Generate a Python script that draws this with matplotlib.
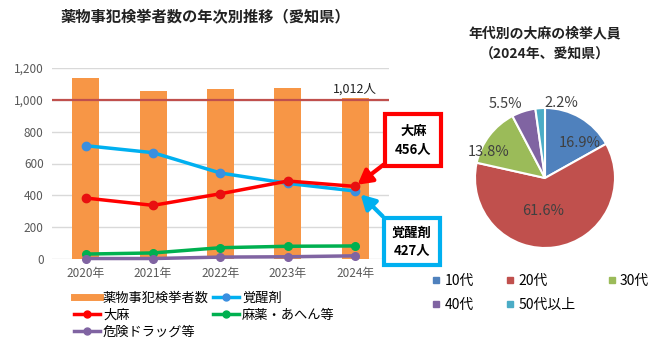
import numpy as np
import matplotlib
matplotlib.use("Agg")
import matplotlib.pyplot as plt
from matplotlib.lines import Line2D

plt.rcParams['font.family'] = ['Noto Sans CJK JP', 'DejaVu Sans']

# data
years = ['2020年', '2021年', '2022年', '2023年', '2024年']
total = [1137, 1055, 1068, 1074, 1012]
kakuseizai = [712, 668, 540, 475, 427]
taima = [383, 337, 410, 490, 456]
mayaku = [31, 38, 71, 80, 82]
kiken = [3, 3, 12, 14, 20]

age_labels = ['10代', '20代', '30代', '40代', '50代以上']
age_share = [16.9, 61.6, 13.8, 5.5, 2.2]

fig = plt.figure(figsize=(6.5, 3.52), dpi=100)

# ---- left chart ----
ax = fig.add_axes([52/650, 1-259/352, 337/650, 191/352])
x = np.arange(len(years))
ax.bar(x, total, width=0.4, color='#F79646', zorder=2)
ax.axhline(1000, color='#C0504D', lw=1.6, zorder=3)
ax.text(4.0, 1025, '1,012人', ha='center', va='bottom', fontsize=9, color='#222222')

ax.plot(x, kakuseizai, color='#00B0F0', lw=2.5, marker='o', ms=6,
        mfc='#3A8FE0', mec='#3A8FE0', zorder=4, clip_on=False)
ax.plot(x, taima, color='#FF0000', lw=2.5, marker='o', ms=6,
        mfc='#E81010', mec='#E81010', zorder=5, clip_on=False)
ax.plot(x, mayaku, color='#00B050', lw=2.5, marker='o', ms=5.5,
        zorder=4, clip_on=False)
ax.plot(x, kiken, color='#8064A2', lw=2.5, marker='o', ms=5.5,
        zorder=4, clip_on=False)

ax.set_xlim(-0.5, 4.5)
ax.set_ylim(0, 1200)
ax.set_yticks(range(0, 1201, 200))
ax.set_yticklabels([f'{v:,}' for v in range(0, 1201, 200)])
ax.set_xticks(x)
ax.set_xticklabels(years)
ax.tick_params(length=0, labelsize=8.5, colors='#595959', pad=6)
ax.grid(axis='y', color='#D9D9D9', lw=1, zorder=0)
for s in ax.spines.values():
    s.set_visible(False)

fig.text(205/650, 1-17/352, '薬物事犯検挙者数の年次別推移（愛知県）',
         ha='center', va='center', fontsize=11, fontweight='bold', color='#222222')

# callout boxes
ax.annotate('大麻\n456人', xy=(4.0, 456), xytext=(4.86, 748),
            ha='center', va='center', fontsize=9.5, fontweight='bold',
            annotation_clip=False, linespacing=1.35,
            bbox=dict(boxstyle='square,pad=0.75', fc='white', ec='#FF0000', lw=3),
            arrowprops=dict(arrowstyle='-|>,head_length=0.9,head_width=0.5',
                            color='#FF0000', lw=3,
                            relpos=(0.0, 0.0), shrinkA=0, shrinkB=2))
ax.annotate('覚醒剤\n427人', xy=(4.05, 418), xytext=(4.84, 110),
            ha='center', va='center', fontsize=9.5, fontweight='bold',
            annotation_clip=False, linespacing=1.35,
            bbox=dict(boxstyle='square,pad=0.6', fc='white', ec='#00B0F0', lw=3),
            arrowprops=dict(arrowstyle='-|>,head_length=0.9,head_width=0.5',
                            color='#00B0F0', lw=3,
                            relpos=(0.0, 1.0), shrinkA=0, shrinkB=2))

h_bar = Line2D([], [], color='#F79646', lw=5)
h_kak = Line2D([], [], color='#00B0F0', lw=2.5, marker='o', ms=5, mfc='#3A8FE0', mec='#3A8FE0')
h_tai = Line2D([], [], color='#FF0000', lw=2.5, marker='o', ms=5)
h_may = Line2D([], [], color='#00B050', lw=2.5, marker='o', ms=5)
h_kik = Line2D([], [], color='#8064A2', lw=2.5, marker='o', ms=5)
fig.legend([h_bar, h_tai, h_kik, h_kak, h_may],
           ['薬物事犯検挙者数', '大麻', '危険ドラッグ等', '覚醒剤', '麻薬・あへん等'],
           ncol=2, loc='upper left', bbox_to_anchor=(74/650, 1-292/352),
           frameon=False, fontsize=9.5, handlelength=2.0, handletextpad=0.2,
           columnspacing=0.3, labelspacing=0.3, borderaxespad=0, borderpad=0)

# ---- pie ----
pcolors = ['#4F81BD', '#C0504D', '#9BBB59', '#8064A2', '#4BACC6']
pax = fig.add_axes([(545-70)/650, (352-178-70)/352, 140/650, 140/352])
wedges, _ = pax.pie(age_share, colors=pcolors, startangle=90, counterclock=False,
                    wedgeprops=dict(edgecolor='white', linewidth=1.5))
pax.set_xlim(-1, 1)
pax.set_ylim(-1, 1)
pax.set_aspect('equal')
# label placement (fraction of radius from centre)
label_xy = [(0.49, 0.50), (-0.03, -0.47), (-0.81, 0.37), (-0.56, 1.06), (0.24, 1.07)]
for v, (lx, ly) in zip(age_share, label_xy):
    pax.text(lx, ly, f'{v}%', ha='center', va='center', fontsize=10.5, color='#404040')

fig.text(545/650, 1-33/352, '年代別の大麻の検挙人員', ha='center', va='center',
         fontsize=10, fontweight='bold', color='#222222')
fig.text(545/650, 1-55/352, '（2024年、愛知県）', ha='center', va='center',
         fontsize=10, fontweight='bold', color='#222222')

ph = [Line2D([], [], ls='none', marker='s', ms=4, color=c) for c in pcolors]
order = [0, 3, 1, 4, 2]
fig.legend([ph[i] for i in order], [age_labels[i] for i in order],
           ncol=3, loc='upper left', bbox_to_anchor=(432/650, 1-274/352),
           frameon=False, fontsize=10, handlelength=0.6, handletextpad=0.3,
           columnspacing=2.3, labelspacing=0.7, borderaxespad=0, borderpad=0)

fig.savefig('out.png', dpi=100)
